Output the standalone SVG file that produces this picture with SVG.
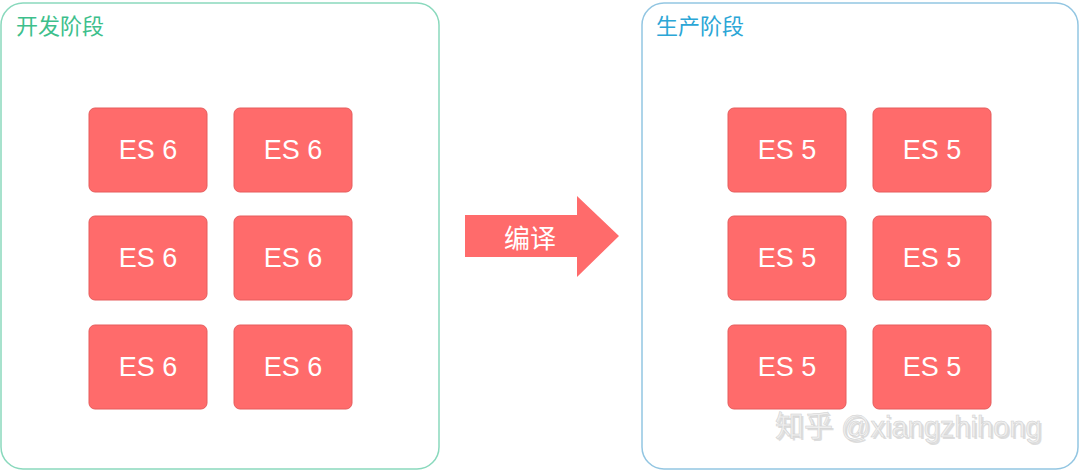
<svg xmlns="http://www.w3.org/2000/svg" width="1080" height="473" viewBox="0 0 1080 473">
<style>
.box{fill:#ff6b6b;stroke:#e65c5c;stroke-width:1}
.lbl{font-family:"Liberation Sans",Arial,sans-serif;font-size:27px;fill:#ffffff;text-anchor:middle;dominant-baseline:central}
.title{font-family:"Noto Sans CJK SC","Noto Sans",sans-serif;font-size:22px}
.wm{font-family:"Liberation Sans","Noto Sans CJK SC",sans-serif;font-size:29px}
</style>
<rect width="1080" height="473" fill="#ffffff"/>
<g id="dev-stage">
<rect x="1" y="3" width="438" height="466" rx="22" fill="none" stroke="#8ad9bd" stroke-width="1.5"/>
<text class="title" x="16" y="34" fill="#3dbf8c">开发阶段</text>
</g>
<g id="prod-stage">
<rect x="642" y="3" width="436" height="466" rx="22" fill="none" stroke="#93c6e2" stroke-width="1.5"/>
<text class="title" x="656" y="34" fill="#2ba6d6">生产阶段</text>
</g>
<g id="es6-1"><rect class="box" x="89" y="108" width="118" height="84" rx="6"/><text class="lbl" x="148" y="150">ES 6</text></g>
<g id="es6-2"><rect class="box" x="234" y="108" width="118" height="84" rx="6"/><text class="lbl" x="293" y="150">ES 6</text></g>
<g id="es6-3"><rect class="box" x="89" y="216" width="118" height="84" rx="6"/><text class="lbl" x="148" y="258">ES 6</text></g>
<g id="es6-4"><rect class="box" x="234" y="216" width="118" height="84" rx="6"/><text class="lbl" x="293" y="258">ES 6</text></g>
<g id="es6-5"><rect class="box" x="89" y="325" width="118" height="84" rx="6"/><text class="lbl" x="148" y="367">ES 6</text></g>
<g id="es6-6"><rect class="box" x="234" y="325" width="118" height="84" rx="6"/><text class="lbl" x="293" y="367">ES 6</text></g>
<g id="es5-1"><rect class="box" x="728" y="108" width="118" height="84" rx="6"/><text class="lbl" x="787" y="150">ES 5</text></g>
<g id="es5-2"><rect class="box" x="873" y="108" width="118" height="84" rx="6"/><text class="lbl" x="932" y="150">ES 5</text></g>
<g id="es5-3"><rect class="box" x="728" y="216" width="118" height="84" rx="6"/><text class="lbl" x="787" y="258">ES 5</text></g>
<g id="es5-4"><rect class="box" x="873" y="216" width="118" height="84" rx="6"/><text class="lbl" x="932" y="258">ES 5</text></g>
<g id="es5-5"><rect class="box" x="728" y="325" width="118" height="84" rx="6"/><text class="lbl" x="787" y="367">ES 5</text></g>
<g id="es5-6"><rect class="box" x="873" y="325" width="118" height="84" rx="6"/><text class="lbl" x="932" y="367">ES 5</text></g>
<g id="connectors">
<g id="compile-arrow">
<polygon points="465,215 577,215 577,196 619,236 577,277 577,257 465,257" fill="#ff6b6b"/>
<text x="530" y="236" font-family="'Noto Sans CJK SC','Noto Sans',sans-serif" font-size="26" fill="#ffffff" text-anchor="middle" dominant-baseline="central">编译</text>
</g>
</g>
<g id="watermark">
<text class="wm" x="777" y="439" fill="#c8c8c8" opacity="0.6">知乎 @xiangzhihong</text>
<text class="wm" x="775" y="437" fill="#eeeeee" stroke="#d0d0d0" stroke-width="0.5">知乎 @xiangzhihong</text>
</g>
</svg>
